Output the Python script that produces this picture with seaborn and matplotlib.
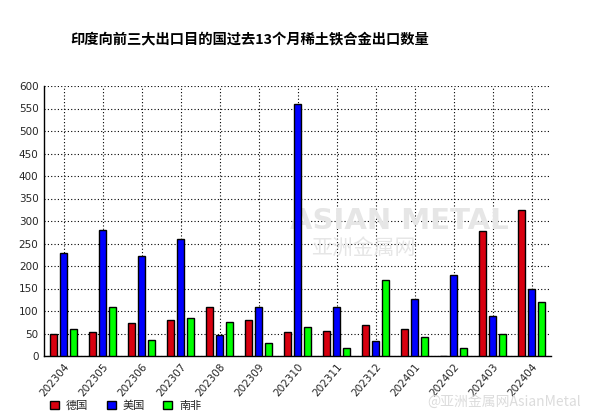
import matplotlib
matplotlib.use("Agg")
import matplotlib.pyplot as plt
from matplotlib.patches import Patch
import seaborn as sns
import pandas as pd

# Data
months = ["202304", "202305", "202306", "202307", "202308", "202309", "202310",
          "202311", "202312", "202401", "202402", "202403", "202404"]
germany = [48, 53, 73, 79, 108, 79, 53, 55, 68, 59, 0, 277, 324]
usa = [228, 280, 222, 259, 47, 108, 561, 110, 33, 126, 179, 90, 148]
south_africa = [59, 108, 35, 84, 75, 28, 64, 17, 168, 42, 17, 50, 119]
countries = ["德国", "美国", "南非"]
colors = ["#d8000f", "#0000ff", "#00ff00"]

rows = []
for name, vals in zip(countries, [germany, usa, south_africa]):
    for m, v in zip(months, vals):
        rows.append({"month": m, "value": v, "country": name})
df = pd.DataFrame(rows)

sns.set_style("white")
plt.rcParams["font.family"] = ["DejaVu Sans", "Noto Sans CJK SC"]

fig = plt.figure(figsize=(5.9, 4.16), dpi=100)
ax = fig.add_axes([44 / 590, 60 / 416, 507 / 590, 270 / 416])

sns.barplot(data=df, x="month", y="value", hue="country", palette=colors,
            saturation=1, width=0.77, gap=0.22, edgecolor="black", linewidth=1,
            legend=False, ax=ax, zorder=3)

ax.set_xlim(-0.5, 12.5)
ax.set_ylim(0, 600)
ax.set_yticks(range(0, 601, 50))
ax.set_xlabel("")
ax.set_ylabel("")
ax.grid(True, color="black", linestyle=(0, (1, 2)), linewidth=0.8, zorder=0)
ax.set_axisbelow(True)
for s in ["top", "right"]:
    ax.spines[s].set_visible(False)
for s in ["left", "bottom"]:
    ax.spines[s].set_color("black")
    ax.spines[s].set_linewidth(1)
ax.tick_params(axis="both", direction="out", length=3, color="black",
               labelsize=7.5, pad=1)
plt.setp(ax.get_xticklabels(), rotation=50, ha="right", rotation_mode="anchor")

# watermarks (behind the bars)
ax.text(0.70, 0.50, "ASIAN METAL", transform=ax.transAxes, fontsize=21,
        fontweight="bold", color="#e6e6e6", ha="center", va="center", zorder=1)
ax.text(0.63, 0.40, "亚洲金属网", transform=ax.transAxes, fontsize=15,
        color="#e6e6e6", ha="center", va="center", zorder=1,
        family="Noto Sans CJK SC")
fig.text(0.985, 0.035, "@亚洲金属网AsianMetal", fontsize=10, color="#dcdcdc",
         ha="right", va="center", family=["Noto Sans CJK SC", "DejaVu Sans"])

fig.text(70 / 590, 1 - 40 / 416, "印度向前三大出口目的国过去13个月稀土铁合金出口数量",
         fontsize=10.3, fontweight="bold", ha="left", va="center", color="black",
         family=["Noto Sans CJK SC", "DejaVu Sans"])

handles = [Patch(facecolor=c, edgecolor="black", linewidth=1) for c in colors]
fig.legend(handles, countries, loc="lower left", bbox_to_anchor=(40 / 590, -0.012),
           ncol=3, frameon=False, handlelength=0.8, handleheight=0.8,
           handletextpad=0.6, columnspacing=1.7,
           prop={"family": "Noto Sans CJK SC", "size": 8})

fig.savefig("out.png", dpi=100)
